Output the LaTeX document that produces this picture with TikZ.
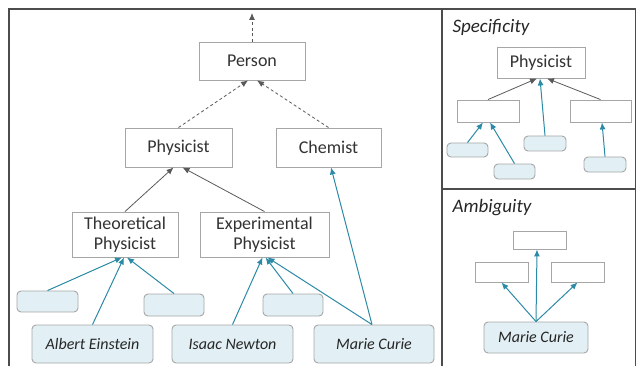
\documentclass[tikz,border=0pt]{standalone}
\usepackage{fontspec}
\setmainfont{Carlito}
\usetikzlibrary{arrows.meta}
\definecolor{boxgray}{HTML}{A6A6A6}
\definecolor{txtgray}{HTML}{333333}
\definecolor{linkblue}{HTML}{2B8AA6}
\definecolor{fillblue}{HTML}{E2EFF4}
\tikzset{class box/.style={draw=boxgray, fill=white, line width=0.9pt, rectangle, inner sep=0pt, text=txtgray, font=\fontsize{18}{20}\selectfont, align=center}}
\tikzset{instance box/.style={draw=boxgray, fill=fillblue, line width=0.9pt, rounded corners=4pt, inner sep=0pt, text=black!85, font=\fontsize{16}{18}\selectfont\itshape}}
\tikzset{is a/.style={->, draw=black!65, line width=0.8pt}}
\tikzset{maybe a/.style={->, draw=black!65, line width=0.8pt, dash pattern=on 3pt off 2.5pt}}
\tikzset{member of/.style={->, draw=linkblue, line width=1pt}}

\begin{document}
\begin{tikzpicture}[x=1pt, y=-1pt, >={Latex[length=7pt,width=6pt]}]
\useasboundingbox (0,0) rectangle (636,366);
\draw[black!70, line width=1.1pt] (9,366) -- (9,9) -- (635.5,9) -- (635.5,366);
\draw[black!70, line width=1.1pt] (442,9) -- (442,366);
\draw[black!70, line width=1.1pt] (442,189) -- (635.5,189);

\node[class box, minimum width=106pt, minimum height=38pt] (person) at (252,61) {Person};
\node[class box, minimum width=107pt, minimum height=39pt] (physicist) at (178.5,147.5) {Physicist};
\node[class box, minimum width=105pt, minimum height=39pt] (chemist) at (328.5,147.5) {Chemist};
\node[class box, minimum width=106pt, minimum height=45pt] (theo) at (125,234.5) {Theoretical\\Physicist};
\node[class box, minimum width=129pt, minimum height=45pt] (expe) at (264.5,234.5) {Experimental\\Physicist};
\node[instance box, minimum width=61pt, minimum height=21pt] (blank1) at (47.5,301.5) {};
\node[instance box, minimum width=60pt, minimum height=22pt] (blank2) at (174,305) {};
\node[instance box, minimum width=60pt, minimum height=22pt] (blank3) at (293,305) {};
\node[instance box, minimum width=121pt, minimum height=38pt] (einstein) at (92.5,344) {Albert Einstein};
\node[instance box, minimum width=121pt, minimum height=38pt] (newton) at (232.5,344) {Isaac Newton};
\node[instance box, minimum width=120pt, minimum height=38pt] (curie) at (374,344) {Marie Curie};
\coordinate (top) at (252,13);

\draw[maybe a] (person) -- (top);
\draw[maybe a] (physicist.north) -- ([xshift=-4pt]person.south);
\draw[maybe a] (chemist.north) -- ([xshift=5pt]person.south);
\draw[is a] (theo.north) -- ([xshift=-5pt]physicist.south);
\draw[is a] (expe.north) -- ([xshift=4pt]physicist.south);
\draw[member of] (blank1.north) -- ([xshift=-3pt]theo.south);
\draw[member of] (einstein.north) -- ([xshift=-1pt]theo.south);
\draw[member of] (blank2.north) -- ([xshift=2pt]theo.south);
\draw[member of] (newton.north) -- ([xshift=-2pt]expe.south);
\draw[member of] (blank3.north) -- ([xshift=1pt]expe.south);
\draw[member of] ([xshift=-2pt]curie.north) -- ([xshift=3pt]expe.south);
\draw[member of] ([xshift=-2pt]curie.north) -- ([xshift=2.5pt]chemist.south);

\node[anchor=west, text=black!85, font=\fontsize{19}{21}\selectfont\itshape] (spectitle) at (449,27) {Specificity};
\node[class box, minimum width=88pt, minimum height=31pt] (sphys) at (541,62.5) {Physicist};
\node[class box, minimum width=62pt, minimum height=22pt] (sleft) at (488,111) {};
\node[class box, minimum width=61pt, minimum height=22pt] (sright) at (600.5,111) {};
\node[instance box, minimum width=41pt, minimum height=14pt] (sa) at (467.5,150) {};
\node[instance box, minimum width=41pt, minimum height=15pt] (sb) at (514.5,171.5) {};
\node[instance box, minimum width=42pt, minimum height=15pt] (sc) at (545,143.5) {};
\node[instance box, minimum width=42pt, minimum height=15pt] (sd) at (605,164.5) {};
\draw[is a] (sleft.north) -- ([xshift=-4pt]sphys.south);
\draw[is a] (sright.north) -- ([xshift=6pt]sphys.south);
\draw[member of] (sa.north) -- ([xshift=-5pt]sleft.south);
\draw[member of] (sb.north) -- ([xshift=2pt]sleft.south);
\draw[member of] (sc.north) -- ([xshift=-1pt]sphys.south);
\draw[member of] (sd.north) -- ([xshift=1.5pt]sright.south);

\node[anchor=west, text=black!85, font=\fontsize{19}{21}\selectfont\itshape] (ambtitle) at (449,208) {Ambiguity};
\node[class box, minimum width=53pt, minimum height=18pt] (atop) at (539.5,240) {};
\node[class box, minimum width=53pt, minimum height=20pt] (aleft) at (501.5,272) {};
\node[class box, minimum width=53pt, minimum height=20pt] (aright) at (577.5,272) {};
\node[instance box, minimum width=104pt, minimum height=31pt] (acurie) at (536,337.5) {Marie Curie};
\draw[member of] (acurie.north) -- ([xshift=-2.5pt]atop.south);
\draw[member of] (acurie.north) -- (aleft.south);
\draw[member of] (acurie.north) -- (aright.south);
\end{tikzpicture}
\end{document}
